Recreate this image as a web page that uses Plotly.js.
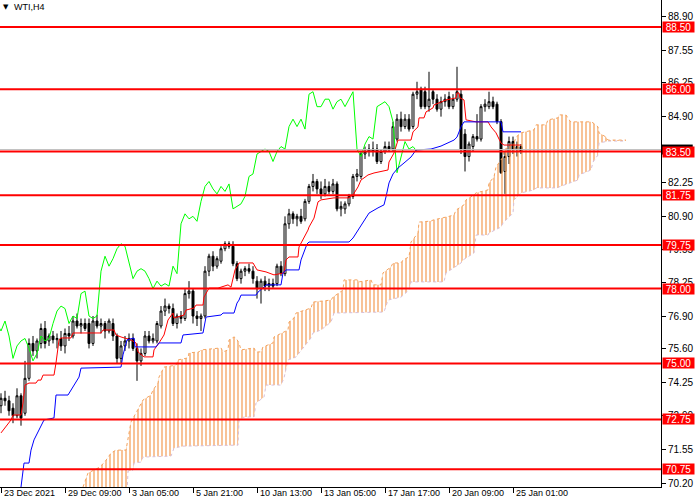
<!DOCTYPE html>
<html><head><meta charset="utf-8">
<script src="https://cdn.plot.ly/plotly-3.0.1.min.js"></script>
<style>html,body{margin:0;padding:0;background:#fff}#chart{width:700px;height:500px}</style>
</head><body><div id="chart"></div>
<script>
const symbolLabel = "WTI,H4";
const openP  = [73.3,73.6,73.5,73.2,72.9,73.7,73.0,74.4,75.8,75.5,75.8,76.4,75.9,76.1,75.95,76.0,75.7,76.2,76.1,76.7,76.5,76.6,76.6,75.8,76.7,76.5,76.6,76.3,76.6,76.1,75.2,75.7,75.9,76.0,75.6,75.1,75.4,76.1,75.9,75.9,76.5,77.1,77.3,77.2,76.6,76.9,76.8,77.8,77.9,76.9,76.8,76.9,78.7,79.3,78.9,79.1,79.6,79.8,79.7,79.0,78.4,78.7,78.8,78.7,78.3,78.0,78.3,78.1,78.2,78.2,78.9,78.6,80.6,81.0,80.8,80.9,80.8,81.5,82.1,82.3,82.0,81.8,82.1,81.9,82.2,81.2,81.2,81.4,81.7,82.5,82.5,83.4,83.5,83.6,83.6,83.1,83.5,83.7,83.6,84.0,84.8,84.5,84.8,84.5,85.8,86.0,85.9,85.3,85.9,85.6,85.2,85.5,85.7,85.3,85.6,85.8,84.2,83.3,83.7,84.1,84.0,85.3,85.3,85.5,85.4,84.7,82.7,83.3,83.9,83.6,83.7];
const highP  = [73.8,73.9,73.7,73.4,74.0,73.8,75.1,76.0,76.1,76.0,76.6,76.7,76.2,76.3,76.2,76.3,76.4,76.5,76.9,77.0,76.8,76.8,76.8,76.9,76.95,76.8,76.7,76.8,76.8,76.2,75.9,76.1,76.2,76.2,75.8,75.6,76.3,76.3,76.2,76.7,77.3,77.6,77.4,77.4,77.0,77.1,78.0,78.3,78.0,77.1,77.0,78.9,79.4,79.5,79.3,79.7,79.9,79.9,79.9,79.1,78.8,78.9,79.0,78.9,78.5,78.4,78.5,78.4,78.4,79.0,79.1,80.9,81.2,81.1,81.0,81.2,81.6,82.2,82.6,82.4,82.3,82.4,82.3,82.4,82.3,81.5,81.5,81.8,82.6,82.8,83.5,83.7,83.8,83.9,83.8,83.6,83.9,83.9,84.7,85.0,85.1,85.0,85.0,85.9,86.3,86.1,86.1,86.7,86.0,85.8,85.7,85.8,85.9,85.8,86.9,86.0,84.4,83.9,84.2,85.0,85.4,85.6,85.9,85.7,85.5,84.8,83.5,84.1,84.1,83.9,83.8];
const lowP   = [73.0,73.3,72.9,72.6,72.8,72.5,72.9,74.3,75.3,75.2,75.6,75.6,75.7,75.8,75.6,75.5,75.4,75.9,76.0,76.4,76.2,76.3,75.6,75.7,76.4,76.2,76.0,76.2,75.9,75.0,75.0,75.5,75.6,75.5,74.3,74.9,75.3,75.8,75.8,75.8,76.4,76.9,77.0,76.5,76.4,76.6,76.7,77.6,76.6,76.5,76.3,76.8,78.5,78.7,78.8,79.0,79.5,79.6,78.9,78.3,78.2,78.5,78.6,78.2,77.6,77.4,77.9,77.9,78.0,78.1,78.5,78.5,80.4,80.6,80.5,80.6,80.7,81.4,81.9,81.8,81.6,81.7,81.8,81.8,81.1,80.9,81.0,81.3,81.6,82.3,82.4,83.2,83.3,83.3,83.0,83.0,83.4,83.5,83.5,83.9,84.3,84.4,84.3,84.4,85.6,85.2,85.2,85.1,85.4,85.1,84.9,85.3,85.2,85.2,85.5,83.4,82.7,83.1,83.5,83.9,83.9,85.1,85.2,85.2,84.6,82.6,81.8,83.0,83.4,83.3,83.4];
const closeP = [73.6,73.5,73.1,72.9,73.7,72.8,74.4,75.8,75.5,75.9,76.4,75.8,76.1,75.95,76.0,75.7,76.2,76.1,76.7,76.5,76.6,76.4,75.8,76.7,76.5,76.6,76.3,76.7,76.1,75.2,75.7,75.9,76.0,75.6,75.1,75.4,76.1,75.9,76.0,76.6,77.1,77.3,77.2,76.6,76.9,76.8,77.8,77.9,76.9,76.8,76.9,78.7,79.3,78.9,79.2,79.6,79.8,79.7,79.0,78.4,78.7,78.8,78.7,78.4,78.0,78.3,78.1,78.2,78.1,78.9,78.6,80.6,81.0,80.8,80.9,80.7,81.5,82.1,82.3,82.0,81.8,82.1,81.9,82.2,81.2,81.3,81.4,81.7,82.5,82.6,83.4,83.5,83.6,83.5,83.1,83.5,83.7,83.6,84.5,84.8,84.5,84.8,84.4,85.8,85.9,85.3,85.3,85.6,85.6,85.2,85.5,85.6,85.3,85.6,85.9,83.6,83.3,83.8,84.1,84.0,85.3,85.4,85.5,85.3,84.7,82.65,83.3,83.9,83.6,83.7,83.5];

const tickBars   = [0,16,32,48,64,80,96,112,128];
const tickLabels = ["23 Dec 2021","29 Dec 09:00","3 Jan 05:00","5 Jan 21:00","10 Jan 13:00","13 Jan 05:00","17 Jan 17:00","20 Jan 09:00","25 Jan 01:00"];
const priceTicks = [88.90,87.55,86.25,84.90,83.55,82.25,80.90,79.55,78.25,76.90,75.60,74.25,72.90,71.55,70.20];
const levels     = [88.50,86.00,83.50,81.75,79.75,78.00,75.00,72.75,70.75];
const bidPrice   = 83.58;
const chikouShift = 26;

const tenkanBar = [0,2.5,3,5,5.5,6,7,8.75,9.25,10,10.5,13.25,13.75,14.5,15,17.5,18,25,25.5,28.25,28.75,30,32.5,33.75,34.25,35.75,38,38.25,39.5,40.75,41.75,43,43.25,45.75,46.25,48.25,48.75,50.5,50.75,52,54.25,55,56.75,57.5,58.5,59.5,63,64,66.25,68.25,70.75,71.25,72,74.25,74.5,76.75,77,78.25,79.25,80,83.25,87,88,89.25,90,90.75,91.75,93.25,94.25,96.75,97,98.25,99.25,102.5,103,104.25,104.5,105.75,106.25,107,108,108.25,111.25,113.75,114,114.5,114.75,115.75,116.25,118.75,121.75,122.5,123.75,125,125.75,130];
const tenkanVal = [72.21,72.73,72.93,72.93,73.41,74.13,74.21,74.21,74.33,74.33,74.53,74.53,75.02,75.94,76.02,76.02,76.22,76.22,76.34,76.34,76.14,76.06,75.94,75.82,75.46,75.26,75.26,75.54,75.82,76.14,76.74,77.02,76.82,76.94,77.14,77.22,77.34,77.34,77.66,78.02,78.02,78.06,78.15,78.06,78.75,79.03,79.03,78.75,78.67,78.55,78.63,79.15,79.27,79.27,79.67,80.35,80.47,80.83,81.48,81.56,81.64,81.64,81.76,82.08,82.36,82.44,82.56,82.64,82.68,82.76,83.08,83.44,83.96,83.96,84.29,84.49,84.85,84.85,85.09,85.17,85.25,85.37,85.57,85.65,85.85,85.85,85.65,85.57,84.77,84.69,84.69,84.49,84.25,83.84,83.76,83.76];

const kijunBar = [5,5.5,5.75,7,7.5,8.25,10,10.75,13.25,13.75,16.75,17.5,19.5,20,30,30.5,31.5,33.25,33.5,38.75,39.5,45,45.5,50.5,51.25,55,55.5,58.25,59,59.5,60,63.75,64.25,65.75,66.25,70,70.5,71.25,74.5,75,76.5,77,87,88,90,92,94.25,95.75,96.25,97,98,99.25,100.75,102.5,103.75,107.5,110,113.25,114,115,115.75,125,125.5,130];
const kijunVal = [70.04,70.72,71.00,71.00,71.52,71.93,72.53,72.73,72.81,73.73,73.73,73.93,74.45,74.81,74.85,75.34,75.94,76.02,75.66,75.66,75.82,75.82,76.14,76.22,76.86,76.94,77.02,77.02,77.42,77.54,77.74,77.74,77.86,78.06,78.15,78.15,78.63,78.75,78.75,79.15,79.79,79.87,79.87,80.03,80.55,81.03,81.24,81.36,81.68,82.24,82.60,82.84,83.04,83.28,83.56,83.60,83.72,83.96,84.08,84.49,84.69,84.69,84.29,84.29];

const cloudTopBar = [20.5,21.75,24.25,25.75,27.5,28.75,31.25,31.75,32.5,33.75,35,35.5,37.5,38,39.25,39.5,40.75,43.75,44.25,46.75,47,49.5,50,55,55.5,56.75,57,58.25,58.75,59.5,60,63.25,63.75,65,65.5,68,68.25,71.75,72,73.25,73.75,77.5,78,82.5,83,85.5,85.75,89.25,89.5,92.5,93,95,95.5,97.5,98,100,100.5,102,102.5,104.25,104.5,107.5,108,110.75,111.25,113.25,113.75,115.75,116.25,118.25,118.75,121.75,122,123.25,123.75,125.5,125.75,128.25,128.75,130,133.25,133.75,136.25,136.75,139.25,139.5,141.25,142,142.5,147.5,148,149.25,149.5,151.25,151.75,156.25];
const cloudTopVal = [70.04,70.60,70.80,71.00,71.40,71.52,71.52,71.93,72.65,73.01,73.41,73.53,73.73,73.93,74.21,74.45,74.85,74.93,75.14,75.22,75.42,75.46,75.54,75.62,75.46,75.54,75.94,76.06,76.02,75.82,75.54,75.62,75.46,75.46,75.66,75.82,76.06,76.34,76.66,76.82,77.02,77.22,77.46,77.54,77.66,77.94,78.35,78.35,78.27,78.35,78.15,78.15,78.63,78.87,79.03,79.03,79.15,79.27,79.87,80.23,80.67,80.71,80.75,80.83,80.87,80.95,81.15,81.36,81.56,81.76,81.84,81.96,82.24,82.48,82.88,83.28,83.56,83.84,84.08,84.25,84.37,84.57,84.57,84.77,84.85,84.97,84.97,84.77,84.69,84.69,84.65,84.49,84.25,84.08,83.96,83.96];
const cloudBotBar = [20.5,31.5,31.75,33,33.25,35,35.5,42.5,43.25,45,45.5,59.25,59.5,60.75,63.25,63.75,65.75,66.25,70,70.75,71.75,73.25,73.75,77.5,78,80,82.5,83.25,95.75,96.75,100,102,102.5,110.75,111.25,115,115.5,118.25,118.75,121.75,122,125,125.5,128,128.25,130,133.25,133.75,139.25,139.5,144.25,144.5,147.5,148,149.25,149.5,151.25,151.75,156.25];
const cloudBotVal = [69.72,69.72,70.68,70.72,71.00,71.04,71.24,71.28,71.60,71.64,71.68,71.72,72.73,72.85,72.85,73.41,73.65,74.13,74.13,74.41,75.14,75.22,75.26,76.02,76.22,76.34,76.66,77.02,77.06,77.54,77.66,77.94,78.27,78.27,78.63,79.03,79.15,79.43,80.15,80.15,80.23,80.47,80.63,81.03,81.56,81.84,81.96,82.04,82.04,82.08,82.36,82.56,82.76,83.08,83.36,83.84,83.88,83.92,83.92];

const bars = closeP.map((_, i) => i);
const chikouX = [], chikouY = [];
closeP.forEach((c, i) => { if (i - chikouShift >= -1) { chikouX.push(i - chikouShift); chikouY.push(c); } });

const traces = [
  {type:'scatter', mode:'lines', x:cloudBotBar, y:cloudBotVal, line:{color:'#D8BFD8', width:1, dash:'dot'}, hoverinfo:'skip'},
  {type:'scatter', mode:'lines', x:cloudTopBar, y:cloudTopVal, line:{color:'#F4A460', width:1, dash:'dot'},
   fill:'tonexty', fillcolor:'rgba(0,0,0,0)',
   fillpattern:{shape:'|', fgcolor:'#F39A50', bgcolor:'rgba(0,0,0,0)', size:4, solidity:0.3, fgopacity:1}, hoverinfo:'skip'},
  {type:'scatter', mode:'lines', x:chikouX, y:chikouY, line:{color:'#00FF00', width:1}, hoverinfo:'skip'},
  {type:'candlestick', x:bars, open:openP, high:highP, low:lowP, close:closeP,
   increasing:{line:{color:'#000', width:1}, fillcolor:'#FFFFFF'},
   decreasing:{line:{color:'#000', width:1}, fillcolor:'#000000'},
   whiskerwidth:0, hoverinfo:'skip'},
  {type:'scatter', mode:'lines', x:tenkanBar, y:tenkanVal, line:{color:'#FF0000', width:1}, hoverinfo:'skip'},
  {type:'scatter', mode:'lines', x:kijunBar, y:kijunVal, line:{color:'#0000FF', width:1}, hoverinfo:'skip'}
];

const shapes = levels.map(v => ({type:'line', xref:'paper', x0:0, x1:1, yref:'y', y0:v, y1:v, line:{color:'#FF0000', width:2}, layer:'above'}));
shapes.unshift({type:'line', xref:'paper', x0:0, x1:1, yref:'y', y0:bidPrice, y1:bidPrice, line:{color:'#C0C0C0', width:1}, layer:'above'});
shapes.push({type:'rect', xref:'paper', x0:1.0015, x1:1.048, yref:'y', y0:bidPrice - 0.2, y1:bidPrice + 0.2, line:{width:0}, fillcolor:'#000000', layer:'above'});

const annotations = [];
levels.forEach(v => annotations.push({xref:'paper', x:1, xanchor:'left', xshift:1, yref:'y', y:v, yanchor:'middle', text:v.toFixed(2), showarrow:false, bgcolor:'#FF0000', font:{color:'#FFFFFF', size:10}, width:31, height:10, borderpad:0}));
tickBars.forEach((b, k) => annotations.push({xref:'x', x:b, xanchor:'left', xshift:2, yref:'paper', y:0, yanchor:'top', yshift:0, text:tickLabels[k], showarrow:false, font:{size:9, color:'#000'}, borderpad:0}));
annotations.push({xref:'paper', x:0, xanchor:'left', xshift:2, yref:'paper', y:1, yanchor:'top', yshift:-2, text:'▼', showarrow:false, font:{family:'DejaVu Sans', size:7, color:'#000'}, borderpad:0});
annotations.push({xref:'paper', x:0, xanchor:'left', xshift:13, yref:'paper', y:1, yanchor:'top', yshift:-1, text:symbolLabel, showarrow:false, font:{size:9, color:'#000'}, borderpad:0});

const layout = {
  width:700, height:500,
  margin:{l:0, r:39, t:0, b:13, pad:0},
  paper_bgcolor:'#FFFFFF', plot_bgcolor:'#FFFFFF',
  showlegend:false,
  font:{family:'"Liberation Sans", Arial, sans-serif', size:10, color:'#000'},
  xaxis:{range:[-0.25,165], showgrid:false, zeroline:false, showline:true, linecolor:'#000', linewidth:1,
         ticks:'outside', ticklen:5, tickcolor:'#000', tickvals:tickBars, showticklabels:false,
         fixedrange:true, automargin:false, rangeslider:{visible:false}},
  yaxis:{side:'right', range:[70.04,89.58], showgrid:false, zeroline:false, showline:true, linecolor:'#000', linewidth:1,
         ticks:'outside', ticklen:4, tickcolor:'#000', tickvals:priceTicks,
         ticktext:priceTicks.map(v => (Math.abs(v - 83.55) < 0.001 ? '' : v.toFixed(2))),
         tickfont:{size:10, color:'#000'}, fixedrange:true, automargin:false},
  shapes:shapes, annotations:annotations
};

Plotly.newPlot('chart', traces, layout, {displayModeBar:false, staticPlot:true});
</script>
</body></html>
